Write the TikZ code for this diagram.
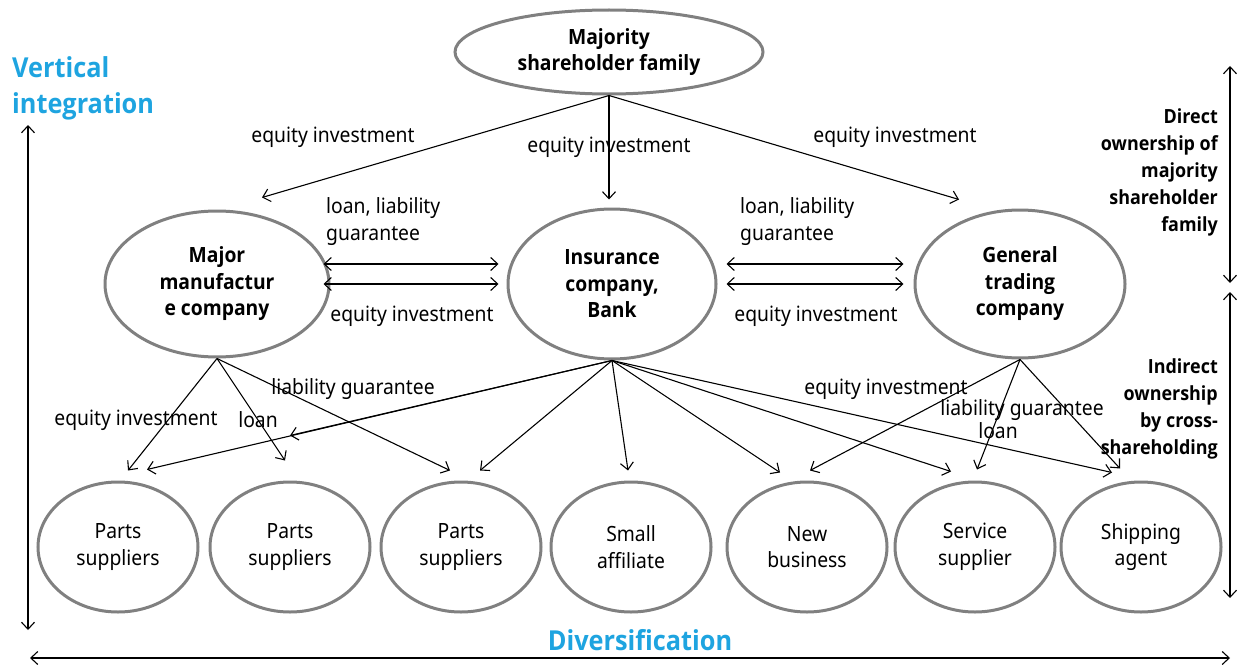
\documentclass[tikz,border=0pt]{standalone}
\usepackage{fontspec}
% regular text in Noto Sans; bold from the first heavy face that is available
\IfFontExistsTF{Open Sans Bold}{\def\heavyface{Open Sans Bold}}{%
  \IfFontExistsTF{Fira Sans Bold}{\def\heavyface{Fira Sans Bold}}{%
    \IfFontExistsTF{Lato Bold}{\def\heavyface{Lato Bold}}{\def\heavyface{DejaVu Sans Bold}}}}
\setmainfont{Noto Sans}[FakeStretch=0.92,BoldFont={\heavyface}]
\usetikzlibrary{shapes.geometric,arrows.meta,calc}
\definecolor{ringgray}{RGB}{128,128,128}
\definecolor{axisblue}{RGB}{30,164,224}
\begin{document}
\begin{tikzpicture}[x=1pt,y=-1pt,
  ring/.style={ellipse,draw=ringgray,line width=3pt,inner sep=0pt,align=center},
  keyring/.style={ring,font=\fontsize{21}{26.5}\selectfont\bfseries},
  leafring/.style={ring,minimum width=160pt,minimum height=130pt,font=\fontsize{21}{26.5}\selectfont},
  lbl/.style={inner sep=0pt,font=\fontsize{21}{27}\selectfont},
  sidelbl/.style={inner sep=0pt,align=right,anchor=north east,font=\fontsize{19.5}{27}\selectfont\bfseries},
  axislbl/.style={inner sep=0pt,text=axisblue,font=\fontsize{27.5}{36}\selectfont\bfseries},
  link/.style={-{Straight Barb[length=7pt,width=13pt]},line width=1.1pt},
  biglink/.style={{Straight Barb[length=7pt,width=13pt]}-{Straight Barb[length=7pt,width=13pt]},line width=1.1pt}
]
\useasboundingbox (0,0) rectangle (1237,669);

% owners and core companies
\node[keyring,minimum width=308pt,minimum height=84pt] (fam) at (609,52) {Majority\\shareholder family};
\node[keyring,minimum width=224pt,minimum height=146pt] (maj) at (217,284) {Major\\manufactur\\e company};
\node[keyring,minimum width=208pt,minimum height=150pt] (ins) at (612,284) {Insurance\\company,\\Bank};
\node[keyring,minimum width=210pt,minimum height=148pt] (gt) at (1020,284) {General\\trading\\company};

% affiliates
\node[leafring] (p1) at (118,547) {Parts\\suppliers};
\node[leafring] (p2) at (290,547) {Parts\\suppliers};
\node[leafring] (p3) at (461,547) {Parts\\suppliers};
\node[leafring] (sa) at (631,547) {Small\\affiliate};
\node[leafring] (nb) at (807,547) {New\\business};
\node[leafring] (ss) at (975,547) {Service\\supplier};
\node[leafring] (sh) at (1141,547) {Shipping\\agent};

% family holdings
\draw[link] (fam.south) -- ($(maj.north)+(45,-12)$);
\draw[link] (fam.south) -- ($(ins.north)+(-3,-8)$);
\draw[link] (fam.south) -- ($(gt.north)+(-61,-9)$);
\node[lbl] (t1) at (333,137) {equity investment};
\node[lbl] (t2) at (609,147) {equity investment};
\node[lbl] (t3) at (895,137) {equity investment};

% ties between core companies
\draw[biglink] ($(maj.east)+(-7,-20)$) -- ($(ins.west)+(-8,-20)$);
\draw[biglink] ($(maj.east)+(-7,0)$) -- ($(ins.west)+(-8,0)$);
\draw[biglink] ($(ins.east)+(9,-20)$) -- ($(gt.west)+(-10,-20)$);
\draw[biglink] ($(ins.east)+(9,0)$) -- ($(gt.west)+(-10,0)$);
\node[lbl,align=left,anchor=north west] (m1) at (326,197) {loan, liability\\guarantee};
\node[lbl] (m2) at (412,316) {equity investment};
\node[lbl,align=left,anchor=north west] (m3) at (740,197) {loan, liability\\guarantee};
\node[lbl] (m4) at (816,316) {equity investment};

% manufacturer to suppliers
\draw[link] (maj.south) -- ($(p1.north)+(10,-10)$);
\draw[link] (maj.south) -- ($(p2.north)+(-5,-20)$);
\draw[link] (maj.south) -- ($(p3.north)+(-11,-10)$);
\node[lbl] (b1) at (136,420) {equity investment};
\node[lbl] (b2) at (258,420) {loan};
\node[lbl] (b3) at (353,389) {liability guarantee};

% insurance and bank to affiliates
\draw[link] (ins.south) -- ($(p1.north)+(29,-11)$);
\draw[link] (ins.south) -- ($(p2.north)+(0,-45)$);
\draw[link] (ins.south) -- ($(p3.north)+(19,-10)$);
\draw[link] (ins.south) -- ($(sa.north)+(-3,-10)$);
\draw[link] (ins.south) -- ($(nb.north)+(-27,-8)$);
\draw[link] (ins.south) -- ($(ss.north)+(-24,-9)$);
\draw[link] (ins.south) -- ($(sh.north)+(-29,-8)$);

% trading company to affiliates
\draw[link] (gt.south) -- ($(nb.north)+(3,-10)$);
\draw[link] (gt.south) -- ($(ss.north)+(2,-11)$);
\draw[link] (gt.south) -- ($(sh.north)+(-21,-12)$);
\node[lbl] (r1) at (886,389) {equity investment};
\node[lbl] (r2) at (1022,410) {liability guarantee};
\node[lbl] (r3) at (998,431) {loan};

% axes
\node[axislbl,align=left,anchor=north west] (vi) at (12,56) {Vertical\\integration};
\node[axislbl] (dv) at (640,640) {Diversification};
\coordinate (vtop) at (28,125);
\coordinate (vbot) at (28,630);
\coordinate (hl) at (30,658);
\coordinate (hr) at (1230,658);
\draw[biglink] (vtop) -- (vbot);
\draw[biglink] (hl) -- (hr);

% ownership bands
\node[sidelbl] (dir) at (1218,108) {Direct\\ownership of\\majority\\shareholder\\family};
\node[sidelbl] (ind) at (1218,358) {Indirect\\ownership\\by cross-\\shareholding};
\coordinate (d1) at (1230,66);
\coordinate (d2) at (1230,283);
\coordinate (d3) at (1230,292);
\coordinate (d4) at (1230,598);
\draw[biglink] (d1) -- (d2);
\draw[biglink] (d3) -- (d4);
\end{tikzpicture}
\end{document}
